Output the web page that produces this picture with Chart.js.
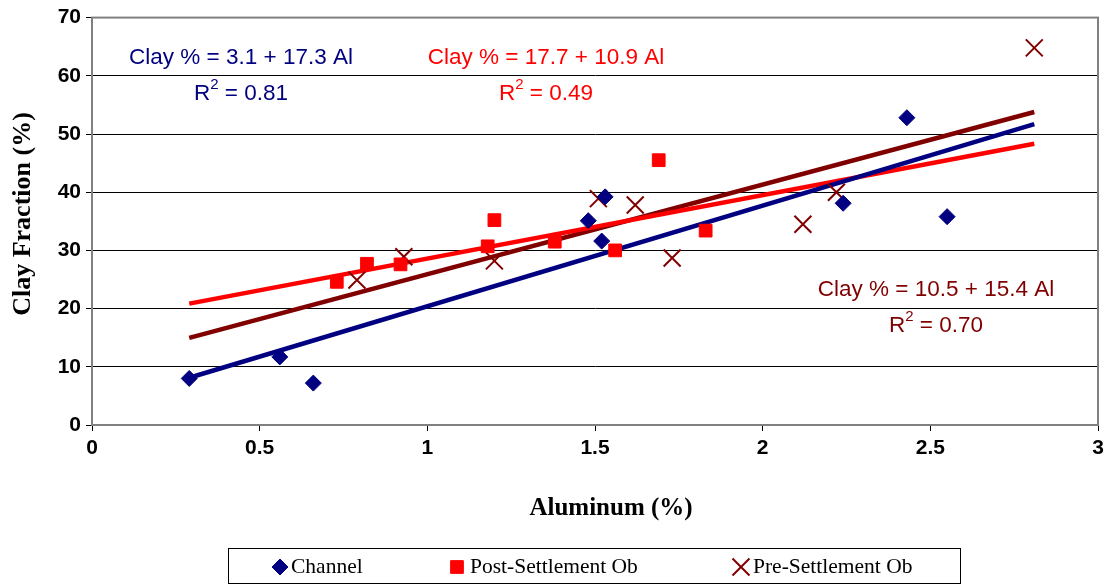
<!DOCTYPE html>
<html>
<head>
<meta charset="utf-8">
<script src="https://cdn.jsdelivr.net/npm/chart.js@4/dist/chart.umd.min.js"></script>
<style>
  html, body { margin: 0; padding: 0; background: #fff; }
  #wrap { width: 1114px; height: 586px; }
</style>
</head>
<body>
<div id="wrap"><canvas id="c" width="1114" height="586"></canvas></div>
<script>
// Aluminum (%) vs clay fraction (%)
const channelAl   = [0.29, 0.56, 0.66, 1.48, 1.53, 1.52, 2.24, 2.43, 2.55];
const channelClay = [8.0, 11.7, 7.2, 35.1, 39.2, 31.6, 38.1, 52.8, 35.8];

const postAl   = [0.73, 0.82, 0.92, 1.18, 1.20, 1.38, 1.56, 1.69, 1.83];
const postClay = [24.6, 27.7, 27.6, 30.7, 35.2, 31.5, 30.0, 45.5, 33.4];

const preAl   = [0.79, 0.93, 1.20, 1.51, 1.62, 1.73, 2.12, 2.22, 2.81];
const preClay = [24.9, 28.9, 28.2, 38.9, 37.8, 28.7, 34.5, 40.0, 64.8];

// trend lines: intercept, slope (from the equations printed on the chart)
const seriesNames = ['Channel', 'Post-Settlement Ob', 'Pre-Settlement Ob'];
const seriesColors = ['#000080', '#FF0000', '#800000'];
const pointStyles = ['rectRot', 'rect', 'crossRot'];
const pointSizes = [8, 9, 12];
const intercepts = [3.1, 17.7, 10.5];
const slopes = [17.3, 10.9, 15.4];
const r2Values = ['0.81', '0.49', '0.70'];
const trendRange = [0.29, 2.81];

const xTicks = [0, 0.5, 1, 1.5, 2, 2.5, 3];
const yTicks = [0, 10, 20, 30, 40, 50, 60, 70];

function toPoints(xs, ys) {
  return xs.map((x, i) => ({ x: x, y: ys[i] }));
}
function trendPoints(i) {
  return trendRange.map(x => ({ x: x, y: intercepts[i] + slopes[i] * x }));
}

const sans = '"Liberation Sans", Arial, sans-serif';
const serif = '"Liberation Serif", "Times New Roman", serif';
const labelFont = '22.5px ' + sans;
const supFont = '15px ' + sans;

// equation labels: series, centre x, y of first line
const eqLabels = [
  { s: 0, cx: 241, cy: 58 },
  { s: 1, cx: 546, cy: 58 },
  { s: 2, cx: 936, cy: 290 }
];

// legend item positions (marker x, text x)
const legendItems = [
  { s: 0, mx: 280, tx: 291 },
  { s: 1, mx: 457, tx: 470 },
  { s: 2, mx: 741, tx: 753 }
];

const annotate = {
  id: 'annotate',
  afterDatasetsDraw(chart) {
    const ctx = chart.ctx;
    const a = chart.chartArea;
    ctx.save();
    // plot frame
    ctx.strokeStyle = '#808080';
    ctx.lineWidth = 2;
    ctx.strokeRect(a.left, a.top, a.right - a.left, a.bottom - a.top);

    ctx.font = labelFont;
    ctx.textBaseline = 'middle';
    eqLabels.forEach(l => {
      const i = l.s;
      ctx.fillStyle = seriesColors[i];
      ctx.textAlign = 'center';
      ctx.fillText('Clay % = ' + intercepts[i] + ' + ' + slopes[i] + ' Al', l.cx, l.cy);
      // R² line with superscript
      const pre = 'R', post = ' = ' + r2Values[i];
      const wPre = ctx.measureText(pre).width;
      ctx.font = supFont;
      const wSup = ctx.measureText('2').width;
      ctx.font = labelFont;
      const wPost = ctx.measureText(post).width;
      let x = l.cx - (wPre + wSup + wPost) / 2;
      const y = l.cy + 36;
      ctx.textAlign = 'left';
      ctx.fillText(pre, x, y);
      ctx.font = supFont;
      ctx.fillText('2', x + wPre, y - 9);
      ctx.font = labelFont;
      ctx.fillText(post, x + wPre + wSup, y);
    });
    ctx.restore();
  },
  afterDraw(chart) {
    const ctx = chart.ctx;
    ctx.save();
    // axis titles
    ctx.fillStyle = '#000';
    ctx.textAlign = 'center';
    ctx.textBaseline = 'middle';
    ctx.font = 'bold 25px ' + serif;
    ctx.fillText('Aluminum (%)', 611, 509);
    ctx.save();
    ctx.translate(23, 214);
    ctx.rotate(-Math.PI / 2);
    ctx.font = 'bold 26px ' + serif;
    ctx.fillText('Clay Fraction (%)', 0, 0);
    ctx.restore();

    // legend
    ctx.strokeStyle = '#000';
    ctx.lineWidth = 1;
    ctx.strokeRect(228.5, 548.5, 732, 35);
    ctx.font = '21.5px ' + serif;
    ctx.textAlign = 'left';
    legendItems.forEach(it => {
      const i = it.s;
      ctx.fillStyle = seriesColors[i];
      ctx.strokeStyle = seriesColors[i];
      ctx.lineWidth = i === 2 ? 2 : 1;
      Chart.helpers.drawPoint(ctx, {
        pointStyle: pointStyles[i],
        radius: pointSizes[i],
        borderWidth: ctx.lineWidth,
        rotation: 0
      }, it.mx, 567);
      ctx.fillStyle = '#000';
      ctx.fillText(seriesNames[i], it.tx, 567);
    });
    ctx.restore();
  }
};

new Chart(document.getElementById('c'), {
  type: 'scatter',
  data: {
    datasets: [
      ...[0, 1, 2].map(i => ({
        label: seriesNames[i],
        data: i === 0 ? toPoints(channelAl, channelClay)
            : i === 1 ? toPoints(postAl, postClay)
            : toPoints(preAl, preClay),
        pointStyle: pointStyles[i],
        radius: pointSizes[i],
        backgroundColor: seriesColors[i],
        borderColor: seriesColors[i],
        borderWidth: i === 2 ? 2 : 1
      })),
      // trend lines
      ...[0, 1, 2].map(i => ({
        label: 'trend' + i,
        data: trendPoints(i),
        type: 'line',
        showLine: true,
        borderColor: seriesColors[i],
        borderWidth: 4.5,
        pointRadius: 0,
        fill: false
      }))
    ]
  },
  options: {
    responsive: false,
    animation: false,
    layout: { padding: { top: 12, right: 16, left: 8, bottom: 0 } },
    plugins: {
      tooltip: { enabled: false },
      legend: { display: false }
    },
    scales: {
      x: {
        type: 'linear',
        min: 0, max: 3,
        afterBuildTicks: s => { s.ticks = xTicks.map(v => ({ value: v })); },
        afterFit: s => { s.height = 161; },
        grid: { drawOnChartArea: false, color: '#000', tickLength: 6 },
        border: { color: '#808080', width: 2 },
        ticks: {
          color: '#000', padding: 5,
          callback: v => String(v),
          font: { family: sans, size: 21, weight: 'bold' }
        }
      },
      y: {
        min: 0, max: 70,
        afterBuildTicks: s => { s.ticks = yTicks.map(v => ({ value: v })); },
        afterFit: s => { s.width = 84; },
        grid: { color: '#000', lineWidth: 1, tickLength: 6 },
        border: { color: '#808080', width: 2 },
        ticks: {
          color: '#000', padding: 5,
          font: { family: sans, size: 21, weight: 'bold' }
        }
      }
    }
  },
  plugins: [annotate]
});
</script>
</body>
</html>
